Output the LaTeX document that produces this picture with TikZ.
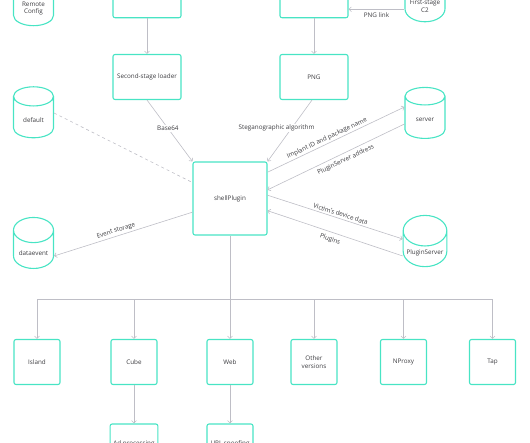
\documentclass[tikz,border=0pt]{standalone}
\usepackage{fontspec}
\setmainfont{Open Sans}
\usetikzlibrary{arrows.meta,positioning,shapes.geometric}
\definecolor{kteal}{RGB}{72,228,196}
\definecolor{edgegray}{RGB}{190,190,198}
\definecolor{txtgray}{RGB}{60,60,64}

\begin{document}
\begin{tikzpicture}[x=1pt,y=-1pt,font=\fontsize{6.3}{7.6}\selectfont,text=txtgray,
  >={Straight Barb[length=2.4pt,width=4.8pt]},
  box/.style={draw=kteal,line width=1.1pt,rounded corners=2pt,minimum width=68,minimum height=45,align=center},
  plug/.style={box,minimum width=46},
  store/.style={cylinder,shape border rotate=90,aspect=0.7,draw=kteal,line width=1.1pt,
    minimum width=40,minimum height=51,align=center},
  edge/.style={draw=edgegray,line width=0.6pt},
  lbl/.style={fill=white,inner sep=1pt}]
\useasboundingbox (0,0) rectangle (530,442);
\clip (0,0) rectangle (530,442);
% loaders (cut at the top)
\node[box] (modif) at (147,-4.8) {\mbox{}\\[1.8pt]modification};
\node[box] (fetch) at (314,-4.8) {};
\node[box] (loader) at (147,77) {Second-stage loader};
\node[box] (png) at (314,77) {PNG};
% storages and servers
\node[store] (remote) at (33.5,8.5) {Remote\\Config};
\node[store] (c2) at (425,6.5) {First-stage\\C2};
\node[store] (default) at (33.5,120) {default};
\node[store] (server) at (425,120) {server};
\node[store] (dataevent) at (33.5,253) {dataevent};
\node[store] (pserver) at (425,253) {PluginServer};
% core
\node[box,minimum width=74,minimum height=73] (shell) at (230,198.5) {shellPlugin};
\draw[edge,->] (modif) -- (loader);
\draw[edge,->] (fetch) -- (png);
\draw[edge,->] (c2.west |- 0,9.3) -- (fetch.east |- 0,9.3) node[midway,below=2pt,inner sep=1pt] {PNG link};
\draw[edge,->] (loader.south) -- (shell.north west) node[lbl,pos=.46] {Base64};
\draw[edge,->] ([xshift=-2pt]png.south) -- (shell.north east) node[lbl,pos=.46,xshift=-15pt] {Steganographic algorithm};
\draw[edge,dashed] ([yshift=7pt]default.east) -- (shell.157);
\draw[edge,->] (shell.35) -- ([yshift=13pt]server.west) node[pos=.45,sloped,above,inner sep=1.5pt] {Implant ID and package name};
\draw[edge,->] ([yshift=-4pt]server.west) -- (shell.13) node[pos=.45,sloped,below,inner sep=3.5pt] {PluginServer address};
\draw[edge,->] (shell.5) -- ([yshift=14pt]pserver.west) node[pos=.53,sloped,above,inner sep=2pt] {Victim's device data};
\draw[edge,->] ([yshift=-3pt]pserver.west) -- (shell.-18) node[pos=.52,sloped,below,inner sep=4pt] {Plugins};
\draw[edge,->] (shell.200) -- ([yshift=-3pt]dataevent.east) node[pos=.54,sloped,above,inner sep=2pt] {Event storage};
% plugins
\coordinate (bar) at (230,299);
\foreach \x/\n/\t in {37/island/Island, 134/cube/Cube, 230/web/Web, 314/other/{Other\\versions},
  403.5/nproxy/NProxy, 492.5/tap/Tap}{
  \node[plug] (\n) at (\x,362) {\t};
  \draw[edge,->] (\n |- bar) -- (\n);
}
\draw[edge] (island |- bar) -- (tap |- bar);
\draw[edge] (shell) -- (web |- bar);
\node[plug] (adproc) at (134,446.5) {Ad processing\\\mbox{}};
\node[plug] (urlspoof) at (230,446.5) {URL spoofing\\\mbox{}};
\draw[edge,->] (cube) -- (adproc);
\draw[edge,->] (web) -- (urlspoof);
\end{tikzpicture}
\end{document}
